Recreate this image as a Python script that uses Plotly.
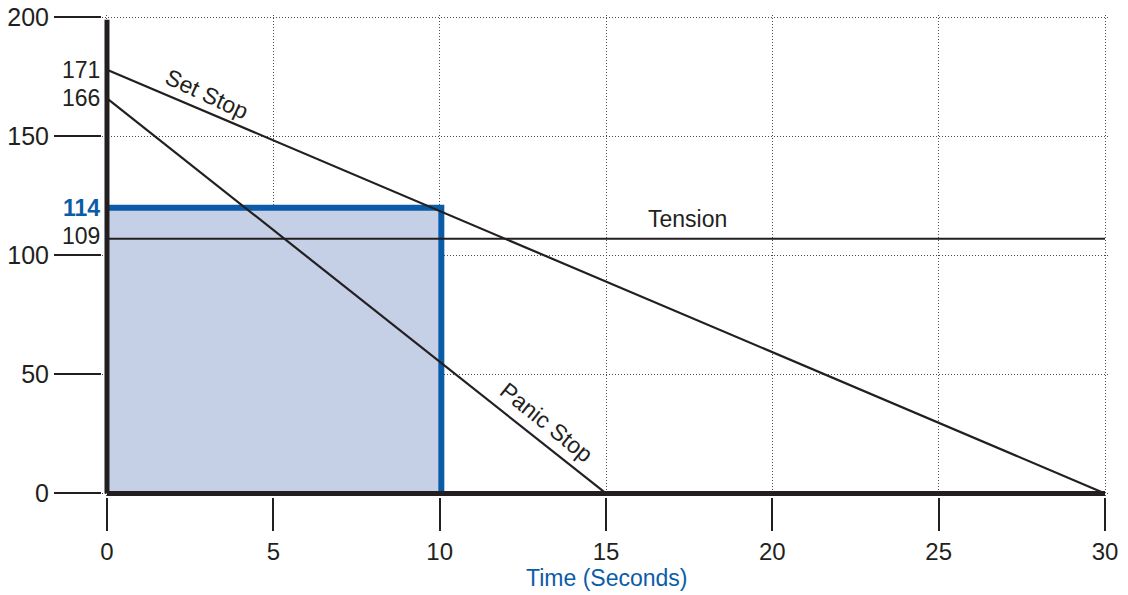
import plotly.graph_objects as go

# ── data ─────────────────────────────────────────────────────────────────
set_stop_x = [0, 30]
set_stop_y = [178, 0]
panic_stop_x = [0, 15]
panic_stop_y = [166, 0]
tension_x = [0, 30]
tension_y = [107, 107]
safe_x = [0, 0, 10.05, 10.05]
safe_y = [0, 120, 120, 0]

x_ticks = [0, 5, 10, 15, 20, 25, 30]
y_ticks = [0, 50, 100, 150, 200]

# values written next to the axis, and where they sit
side_labels = ["171", "166", "114", "109"]
side_label_y = [178, 166, 120, 108]
side_label_color = ["#231f20", "#231f20", "#0b5ca8", "#231f20"]
side_label_bold = [False, False, True, False]

BLACK = "#231f20"
BLUE = "#0b5ca8"
FILL = "#c5d0e7"
FONT = "Liberation Sans, Arial, sans-serif"

fig = go.Figure()

# shaded area under 114 up to 10 s
fig.add_trace(go.Scatter(
    x=safe_x, y=safe_y, mode="lines", fill="toself",
    fillcolor=FILL, line=dict(width=0), hoverinfo="skip", showlegend=False
))
# blue outline (top + right side)
fig.add_trace(go.Scatter(
    x=safe_x[1:], y=safe_y[1:], mode="lines",
    line=dict(color=BLUE, width=6), hoverinfo="skip", showlegend=False
))

for xs, ys in [(tension_x, tension_y), (set_stop_x, set_stop_y),
               (panic_stop_x, panic_stop_y)]:
    fig.add_trace(go.Scatter(
        x=xs, y=ys, mode="lines", line=dict(color=BLACK, width=2.2),
        hoverinfo="skip", showlegend=False
    ))

# heavy axis lines
fig.add_shape(type="line", x0=0, x1=0, y0=0, y1=199,
              line=dict(color=BLACK, width=5))
fig.add_shape(type="line", x0=0, x1=30, y0=0, y1=0,
              line=dict(color=BLACK, width=5))

# text along the lines
fig.add_annotation(x=3.0, y=168, text="Set Stop", showarrow=False,
                   textangle=25, font=dict(size=23, color=BLACK, family=FONT))
fig.add_annotation(x=13.2, y=30, text="Panic Stop", showarrow=False,
                   textangle=39, font=dict(size=23, color=BLACK, family=FONT))
fig.add_annotation(x=17.45, y=115.5, text="Tension", showarrow=False,
                   font=dict(size=23, color=BLACK, family=FONT))

for txt, yv, col, bold in zip(side_labels, side_label_y,
                              side_label_color, side_label_bold):
    fig.add_annotation(
        x=0, y=yv, text=f"<b>{txt}</b>" if bold else txt, showarrow=False,
        xanchor="right", xshift=-5,
        font=dict(size=23, color=col, family=FONT)
    )

# axis title
fig.add_annotation(x=15, y=0, yref="paper", yanchor="middle", yshift=-81,
                   text="Time (Seconds)", showarrow=False,
                   font=dict(size=23, color=BLUE, family=FONT))

grid = dict(showgrid=True, gridcolor="#4d4d4d", griddash="1px,2px",
            gridwidth=1, zeroline=False, showline=False, automargin=False,
            ticks="outside", tickwidth=1.5, tickcolor=BLACK,
            ticklabeloverflow="allow")

fig.update_xaxes(
    range=[-0.15, 30.15], tickvals=x_ticks, ticklen=33,
    tickfont=dict(size=24, color=BLACK, family=FONT), **grid
)
fig.update_yaxes(
    range=[-1.5, 201], tickvals=y_ticks, ticklen=47,
    tickfont=dict(size=25, color=BLACK, family=FONT), **grid
)

fig.update_layout(
    width=1128, height=595,
    margin=dict(l=102, r=18, t=15, b=98, autoexpand=False),
    plot_bgcolor="white", paper_bgcolor="white",
    font=dict(family=FONT, color=BLACK),
)

# drop the page's default 8px body margin so the figure fills the window
fig.write_html("out.html", config={"displayModeBar": False},
               post_script="document.body.style.margin='0';")
